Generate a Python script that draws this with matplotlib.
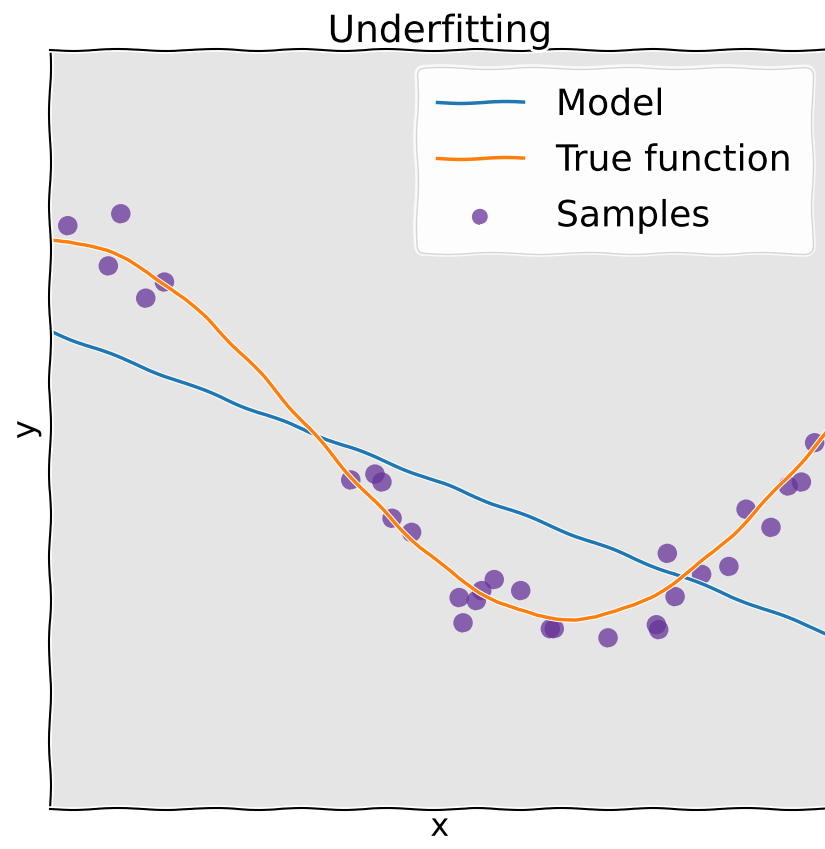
import matplotlib
matplotlib.use('Agg')
import matplotlib.pyplot as plt

# Samples
sample_x = [0.023, 0.091, 0.075, 0.123, 0.147, 0.386, 0.417, 0.426, 0.439, 0.464,
            0.525, 0.530, 0.547, 0.554, 0.570, 0.604, 0.642, 0.647, 0.716, 0.778,
            0.781, 0.792, 0.802, 0.836, 0.871, 0.893, 0.925, 0.947, 0.964, 0.981]
sample_y = [1.073, 1.136, 0.861, 0.691, 0.776, -0.267, -0.236, -0.278, -0.469, -0.543,
            -0.887, -1.020, -0.903, -0.850, -0.792, -0.850, -1.051, -1.051, -1.099, -1.030,
            -1.056, -0.654, -0.882, -0.765, -0.723, -0.421, -0.517, -0.299, -0.278, -0.071]

# True function curve
true_x = [0.000, 0.025, 0.050, 0.075, 0.100, 0.125, 0.150, 0.175, 0.200, 0.225,
          0.250, 0.275, 0.300, 0.325, 0.350, 0.375, 0.400, 0.425, 0.450, 0.475,
          0.500, 0.525, 0.550, 0.575, 0.600, 0.625, 0.650, 0.675, 0.700, 0.725,
          0.750, 0.775, 0.800, 0.825, 0.850, 0.875, 0.900, 0.925, 0.950, 0.975, 1.000]
true_y = [1.000, 0.993, 0.972, 0.938, 0.891, 0.831, 0.760, 0.679, 0.588, 0.488,
          0.383, 0.272, 0.156, 0.039, -0.078, -0.195, -0.309, -0.418, -0.522, -0.619,
          -0.707, -0.786, -0.853, -0.909, -0.951, -0.981, -0.995, -0.999, -0.988, -0.962,
          -0.924, -0.872, -0.809, -0.734, -0.649, -0.556, -0.454, -0.346, -0.233, -0.118, 0.000]

# Model (degree-1 fit)
model_x = [0.00, 0.25, 0.50, 0.75, 1.00]
model_y = [0.52, 0.12, -0.28, -0.68, -1.08]

labels = ['Model', 'True function', 'Samples']

with plt.xkcd():
    plt.rcParams['font.family'] = ['DejaVu Sans']
    fig = plt.figure(figsize=(8.25, 8.49), dpi=100)
    ax = fig.add_axes([0.0606, 0.047, 0.945, 0.894])
    ax.set_facecolor('#e5e5e5')
    ax.plot(model_x, model_y, color='#1f77b4', lw=2.5, label=labels[0])
    ax.plot(true_x, true_y, color='#ff7f0e', lw=2.5, label=labels[1])
    ax.scatter(sample_x, sample_y, s=170, color='rebeccapurple', alpha=0.75,
               edgecolors='none', label=labels[2])
    ax.set_xlim(0, 1)
    ax.set_ylim(-2, 2)
    ax.set_xticks([])
    ax.set_yticks([])
    ax.set_xlabel('x', fontsize=23, labelpad=2)
    ax.set_ylabel('y', fontsize=23, labelpad=6)
    ax.set_title('Underfitting', fontsize=27, pad=2)
    ax.legend(loc='upper right', fontsize=26, labelspacing=0.6, handlelength=2.4,
              handletextpad=0.9, borderpad=0.55, markerscale=0.8)
    fig.savefig('out.png', dpi=100)
